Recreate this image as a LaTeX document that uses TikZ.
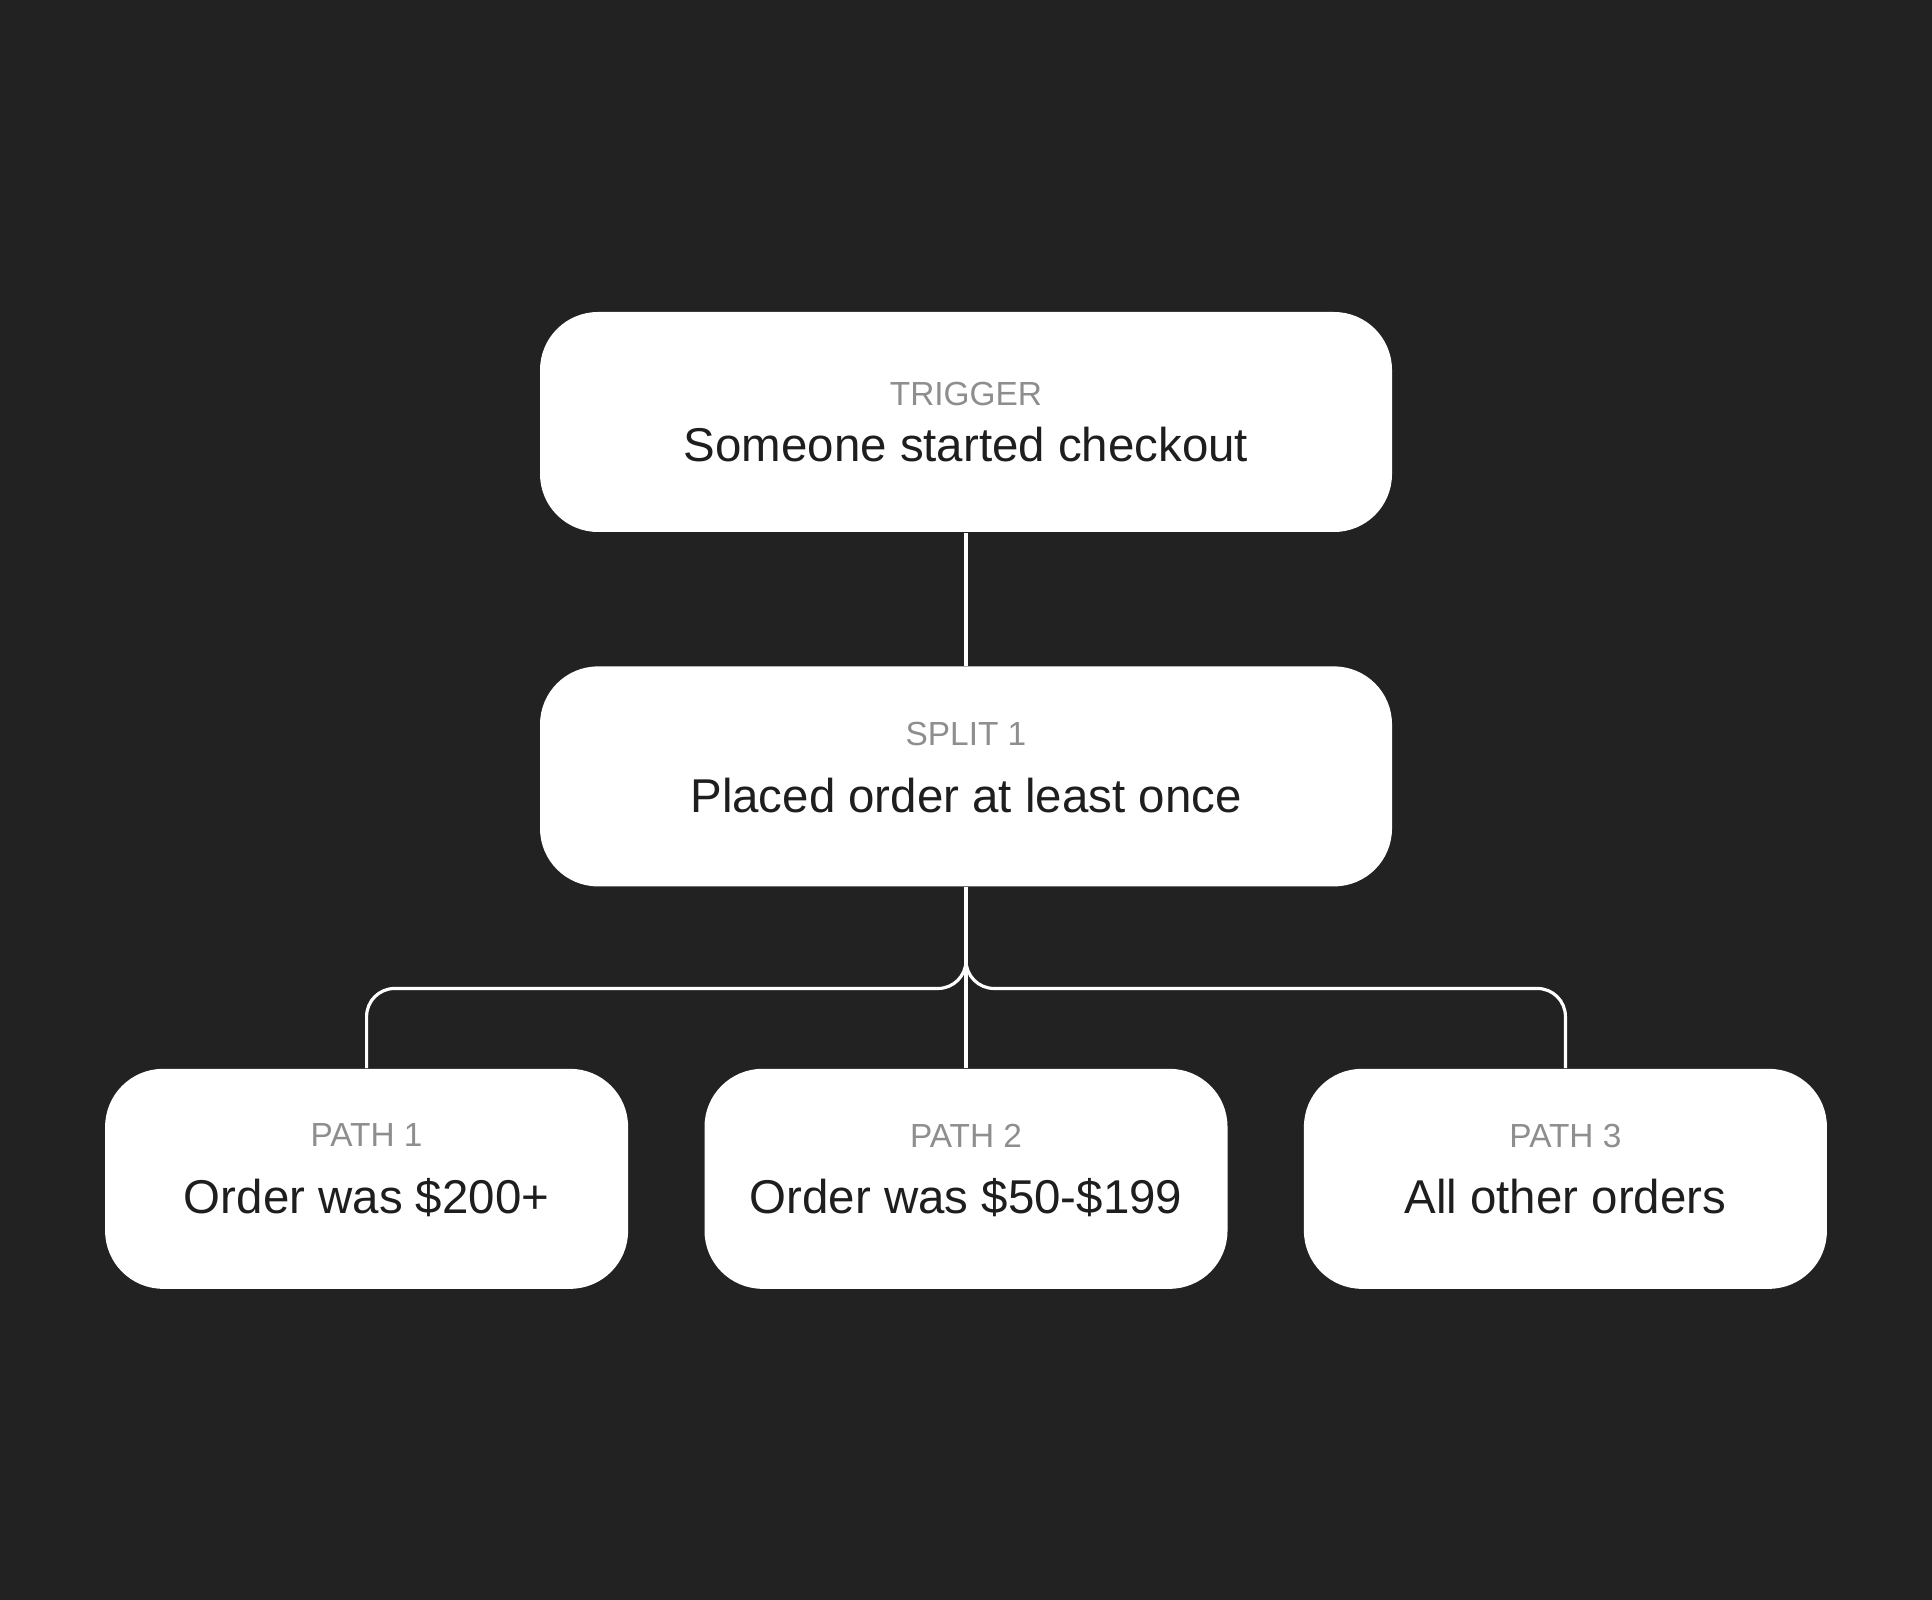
\documentclass[tikz,border=0pt]{standalone}
\usepackage{fontspec}
\setmainfont{Liberation Sans}
\usetikzlibrary{calc,positioning}
\definecolor{canvas}{HTML}{222222}
\definecolor{ink}{HTML}{1E1E1E}
\definecolor{labelgray}{HTML}{8E8E8E}
\newcommand{\boxlabel}[1]{{\color{labelgray}\fontsize{9.5}{11}\selectfont #1}}

\begin{document}
\begin{tikzpicture}[
    stage/.style={draw=none,fill=white,rounded corners=0.58cm,align=center,text=ink,
      font=\fontsize{13.5}{16}\selectfont,minimum height=2.2cm},
    wide/.style={stage,minimum width=8.52cm},
    narrow/.style={stage,minimum width=5.23cm,text depth=0.2cm},
    wire/.style={draw=white,line width=0.9pt,rounded corners=0.28cm}]
  \fill[canvas] (0,0) rectangle (19.32,-16);
  \useasboundingbox (0,0) rectangle (19.32,-16);

  \node[wide] (trig) at (9.66,-4.22) {\boxlabel{TRIGGER}\\Someone started checkout};
  \node[wide,text depth=0.18cm,below=1.33cm of trig] (split) {\boxlabel{SPLIT 1}\\[3pt]Placed order at least once};
  \node[narrow,below=1.81cm of split] (path2) {\boxlabel{PATH 2}\\[3pt]Order was \$50-\$199};
  \node[narrow,left=0.75cm of path2] (path1) {\boxlabel{PATH 1}\\[3pt]Order was \$200+};
  \node[narrow,right=0.75cm of path2] (path3) {\boxlabel{PATH 3}\\[3pt]All other orders};

  \coordinate (bus) at ($(split.south)!0.56!(path2.north)$);
  \draw[wire] (trig) -- (split);
  \draw[wire] (split) -- (path2);
  \draw[wire] (path1.north) |- (bus) -- (split.south);
  \draw[wire] (path3.north) |- (bus) -- (split.south);
\end{tikzpicture}
\end{document}
